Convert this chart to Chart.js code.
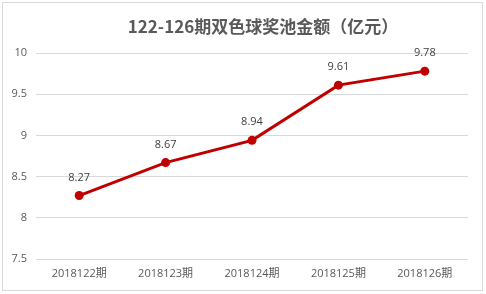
<!DOCTYPE html>
<html>
<head>
<meta charset="utf-8">
<script src="https://cdn.jsdelivr.net/npm/chart.js@4"></script>
<style>
  html, body { margin: 0; padding: 0; background: #fff; }
  #wrap { position: relative; width: 486px; height: 294px; }
  #frame { position: absolute; left: 2px; top: 2px; width: 479px; height: 287px; border: 1px solid #d9d9d9; }
</style>
</head>
<body>
<div id="wrap">
  <canvas id="c" width="486" height="294"></canvas>
  <div id="frame"></div>
</div>
<script>
var titleText = '122-126期双色球奖池金额（亿元）';
var periods = ['2018122期', '2018123期', '2018124期', '2018125期', '2018126期'];
var poolValues = [8.27, 8.67, 8.94, 9.61, 9.78];
var yMin = 7.5, yMax = 10, yStep = 0.5;

var lineColor = '#C00000';
var textColor = '#595959';
var fontFam = '"Open Sans", "Noto Sans CJK SC", sans-serif';

// title + value labels drawn by hand
var labelPlugin = {
  id: 'labels',
  afterDatasetsDraw: function (chart) {
    var ctx = chart.ctx;
    ctx.save();
    ctx.fillStyle = '#595959';
    ctx.font = 'bold 17px "Noto Sans CJK SC", sans-serif';
    ctx.textAlign = 'center';
    ctx.textBaseline = 'middle';
    ctx.fillText(titleText, 263, 27);

    ctx.fillStyle = '#404040';
    ctx.font = '11px ' + fontFam;
    var meta = chart.getDatasetMeta(0);
    meta.data.forEach(function (pt, i) {
      ctx.fillText(poolValues[i].toFixed(2), pt.x, pt.y - 18);
    });
    ctx.restore();
  }
};

new Chart(document.getElementById('c'), {
  type: 'line',
  data: {
    labels: periods,
    datasets: [{
      data: poolValues,
      borderColor: lineColor,
      backgroundColor: lineColor,
      borderWidth: 3,
      pointRadius: 4.5,
      pointBackgroundColor: lineColor,
      pointBorderWidth: 0,
      tension: 0
    }]
  },
  options: {
    responsive: false,
    animation: false,
    layout: { padding: { top: 53, right: 18, left: 0, bottom: 0 } },
    plugins: {
      legend: { display: false },
      tooltip: { enabled: false }
    },
    scales: {
      x: {
        offset: true,
        grid: { display: false, drawTicks: false },
        border: { display: false },
        ticks: { color: textColor, font: { size: 11, family: fontFam }, padding: 8, maxRotation: 0 },
        afterFit: function (s) { s.height = 35; }
      },
      y: {
        min: yMin,
        max: yMax,
        grid: { color: '#d9d9d9', drawTicks: false },
        border: { display: false },
        ticks: {
          stepSize: yStep, color: textColor, font: { size: 11, family: fontFam }, padding: 9,
          callback: function (v) { return String(Math.round(v * 10) / 10); }
        },
        afterFit: function (s) { s.width = 36; }
      }
    }
  },
  plugins: [labelPlugin]
});
</script>
</body>
</html>
